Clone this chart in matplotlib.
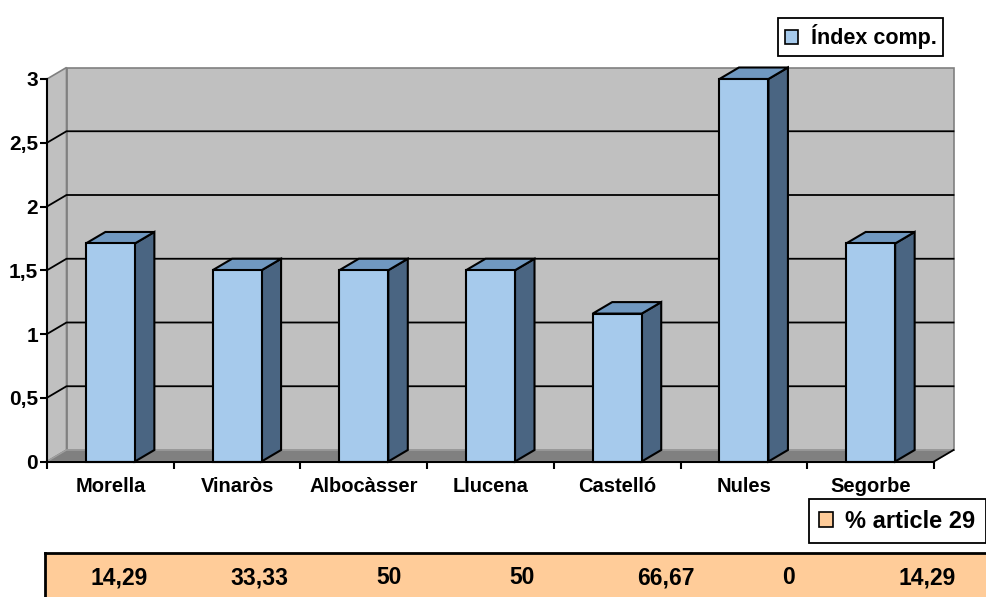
import matplotlib.pyplot as plt
from matplotlib.patches import Polygon, Patch

# Data
towns = ["Morella", "Vinaròs", "Albocàsser", "Llucena", "Castelló", "Nules", "Segorbe"]
index_comp = [1.71, 1.5, 1.5, 1.5, 1.16, 3.0, 1.71]
article29 = ["14,29", "33,33", "50", "50", "66,67", "0", "14,29"]
y_ticks = [0, 0.5, 1, 1.5, 2, 2.5, 3]
y_labels = ["0", "0,5", "1", "1,5", "2", "2,5", "3"]

# table text centres (figure pixels)
table_x = [119, 259, 389, 522, 666, 789, 927]

FONT = "Liberation Sans"
wall_c = "#C0C0C0"
floor_c = "#808080"
front_c = "#A6CAEC"
top_c = "#7098C0"
side_c = "#4A6582"

W, H = 987, 597
fig = plt.figure(figsize=(W / 100, H / 100), dpi=100)
ax = fig.add_axes([47 / W, (H - 461.5) / H, 887 / W, 382.5 / H])

n = len(towns)
x0, x1 = -0.5, n - 0.5
ymax = 3
dx = 19.5 / 126.7   # depth offset in category units
dy = 11.5 / 127.5   # depth offset in value units
bw = 49 / 126.7

# walls and floor
back = Polygon([(x0 + dx, dy), (x1 + dx, dy), (x1 + dx, ymax + dy), (x0 + dx, ymax + dy)],
               facecolor=wall_c, edgecolor="#808080", lw=1.2, clip_on=False, zorder=0)
side = Polygon([(x0, 0), (x0 + dx, dy), (x0 + dx, ymax + dy), (x0, ymax)],
               facecolor=wall_c, edgecolor="#808080", lw=1.2, clip_on=False, zorder=0)
floor = Polygon([(x0, 0), (x1, 0), (x1 + dx, dy), (x0 + dx, dy)],
                facecolor=floor_c, edgecolor="#A0A0A0", lw=1.0, clip_on=False, zorder=0.5)
for p in (back, side, floor):
    ax.add_patch(p)
ax.plot([x1, x1 + dx], [0, dy], color="black", lw=1.3, clip_on=False, zorder=1)

# gridlines on the walls
for v in y_ticks[1:-1]:
    ax.plot([x0, x0 + dx, x1 + dx], [v, v + dy, v + dy], color="black", lw=1.3,
            clip_on=False, zorder=0.6)

# 3D bars
for i, v in enumerate(index_comp):
    l, r = i - bw / 2, i + bw / 2
    ax.add_patch(Polygon([(r, 0), (r + dx, dy), (r + dx, v + dy), (r, v)],
                         facecolor=side_c, edgecolor="black", lw=1.5, zorder=2, clip_on=False))
    ax.add_patch(Polygon([(l, v), (r, v), (r + dx, v + dy), (l + dx, v + dy)],
                         facecolor=top_c, edgecolor="black", lw=1.5, zorder=2, clip_on=False))
ax.bar(range(n), index_comp, width=bw, color=front_c, edgecolor="black", lw=1.5,
       zorder=3, clip_on=False)

ax.set_xlim(x0, x1)
ax.set_ylim(0, ymax)
ax.patch.set_visible(False)
for s in ("top", "right"):
    ax.spines[s].set_visible(False)
for s in ("left", "bottom"):
    ax.spines[s].set_linewidth(1.5)
    ax.spines[s].set_zorder(4)

ax.set_yticks(y_ticks)
ax.set_yticklabels(y_labels, fontsize=15, fontweight="bold", family=FONT)
ax.tick_params(axis="y", length=5, width=1.5, pad=1.5)

ax.set_xticks([x0 + k for k in range(n + 1)])
ax.set_xticklabels([])
ax.tick_params(axis="x", which="major", length=5, width=1.5)
ax.set_xticks(range(n), minor=True)
ax.set_xticklabels(towns, minor=True, fontsize=14.5, fontweight="bold", family=FONT)
ax.tick_params(axis="x", which="minor", length=0, pad=11.5)

# legends
leg1 = fig.legend(handles=[Patch(facecolor=front_c, edgecolor="black", lw=1.2)],
                  labels=["Índex comp."], loc="upper right",
                  bbox_to_anchor=(943 / W, 1 - 18 / H), fancybox=False,
                  edgecolor="black", framealpha=1, borderaxespad=0,
                  handlelength=0.6, handleheight=0.6, handletextpad=0.6,
                  borderpad=0.3, prop={"family": FONT, "weight": "bold", "size": 15.5})
leg1.get_frame().set_linewidth(1.3)

# table row
tab = fig.add_axes([45 / W, 0, 1 - 45 / W, 44.5 / H])
tab.set_facecolor("#FFCC99")
tab.set_xlim(45, W)
tab.set_ylim(0, 1)
tab.set_xticks([])
tab.set_yticks([])
for s in ("right", "bottom"):
    tab.spines[s].set_visible(False)
for s in ("top", "left"):
    tab.spines[s].set_linewidth(2)
for xp, t in zip(table_x, article29):
    tab.text(xp, 0.43, t, ha="center", va="center", fontsize=16.5,
             fontweight="bold", family=FONT)

leg2 = fig.legend(handles=[Patch(facecolor="#FFCC99", edgecolor="black", lw=1.2)],
                  labels=["% article 29"], loc="upper right",
                  bbox_to_anchor=(986 / W, 1 - 499 / H), fancybox=False,
                  edgecolor="black", framealpha=1, borderaxespad=0,
                  handlelength=0.6, handleheight=0.6, handletextpad=0.5,
                  borderpad=0.45, prop={"family": FONT, "weight": "bold", "size": 17})
leg2.get_frame().set_linewidth(1.3)

fig.savefig("out.png", dpi=100)
